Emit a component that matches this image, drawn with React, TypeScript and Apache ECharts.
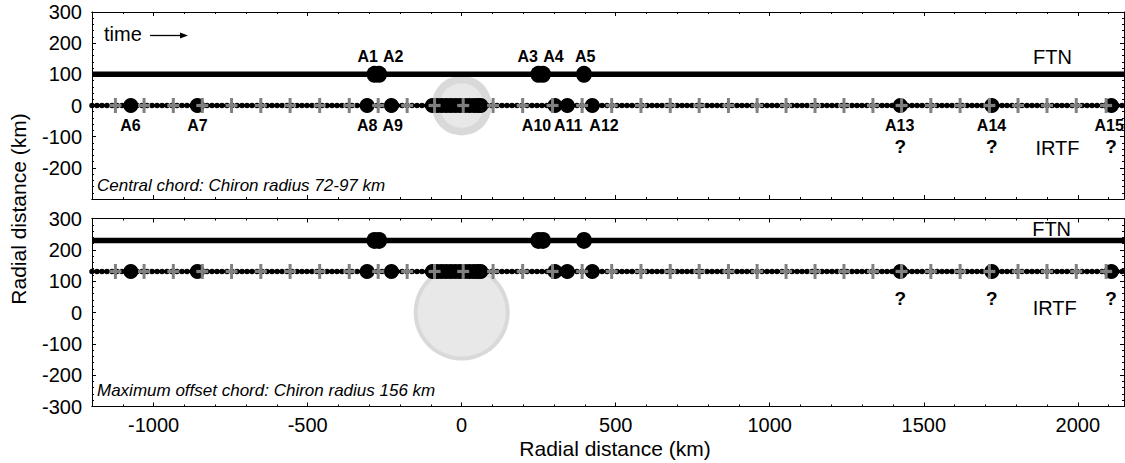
import React, { useEffect, useRef } from 'react';
import * as echarts from 'echarts';

// ---- data (km) ----
const X_MIN = -1200;
const X_MAX = 2150;
const Y_MIN = -300;
const Y_MAX = 300;

const ftnEventNames = ['A1', 'A2', 'A3', 'A4', 'A5'];
const ftnEventKm = [-283, -268, 249, 264, 397];
const ftnLabelKm = [-305, -222, 214, 298, 401];

const irtfEventNames = ['A6', 'A7', 'A8', 'A9', 'A10', 'A11', 'A12', 'A13', 'A14', 'A15'];
const irtfEventKm = [-1074, -858, -307, -228, 303, 343, 424, 1424, 1721, 2109];
const irtfLabelKm = [-1075, -858, -307, -224, 243, 346, 462, 1422, 1720, 2102];

// dense events while the star was behind Chiron
const irtfBodyKm = [-95, -80, -65, -50, -35, -20, -5, 10, 25, 40, 52, 62];

// gray + marks (regular time stamps)
const crossKm = [
  -1124, -1031, -936, -842, -747, -652, -557, -461, -365, -271, -177, -88, 5, 102, 198, 295, 391,
  487, 582, 677, 771, 866, 959, 1053, 1147, 1241, 1335, 1428, 1523, 1618, 1713, 1806, 1900, 1995, 2092,
];

const uncertainKm = [1424, 1721, 2108];

const chordCentral = { ftn: 100, irtf: 0 };
const chordOffset = { ftn: 230, irtf: 131 };
const chironCentral = { x: 0, y: 0, inner: 72, outer: 97 };
const chironOffset = { x: 0, y: 0, inner: 143, outer: 156 };

const FONT = '"Liberation Sans", Arial, Helvetica, sans-serif';

const plain = (v: number) => String(v);

function xAxesFor(gridIndex: number, showLabels: boolean) {
  const base: any = {
    type: 'value',
    gridIndex,
    min: X_MIN,
    max: X_MAX,
    splitLine: { show: false },
    axisLine: { show: true, onZero: false, lineStyle: { color: '#000', width: 1 } },
  };
  const major = {
    axisTick: { show: true, inside: true, length: 4, lineStyle: { color: '#000' } },
  };
  const minor = {
    interval: 100,
    axisTick: { show: true, inside: true, length: 2, lineStyle: { color: '#000' } },
    axisLabel: { show: false },
  };
  return [
    {
      ...base,
      ...major,
      position: 'bottom',
      splitNumber: 7,
      axisLabel: {
        show: showLabels,
        showMinLabel: false,
        showMaxLabel: false,
        color: '#000',
        fontSize: 20,
        fontFamily: FONT,
        margin: 8,
        formatter: plain,
      },
    },
    { ...base, ...minor, position: 'bottom' },
    { ...base, ...major, position: 'top', splitNumber: 7, axisLabel: { show: false } },
    { ...base, ...minor, position: 'top' },
  ];
}

function yAxesFor(gridIndex: number, hideMin: boolean) {
  const base: any = {
    type: 'value',
    gridIndex,
    min: Y_MIN,
    max: Y_MAX,
    interval: 100,
    splitLine: { show: false },
    axisLine: { show: true, onZero: false, lineStyle: { color: '#000', width: 1 } },
    axisTick: { show: true, inside: true, length: 4, lineStyle: { color: '#000' } },
    minorTick: { show: true, splitNumber: 5, length: 2, lineStyle: { color: '#000' } },
  };
  return [
    {
      ...base,
      position: 'left',
      axisLabel: {
        color: '#000',
        fontSize: 20,
        fontFamily: FONT,
        margin: 10,
        showMinLabel: !hideMin,
        formatter: plain,
      },
    },
    { ...base, position: 'right', axisLabel: { show: false } },
  ];
}

function textSeries(xi: number, yi: number, items: { name: string; value: number[] }[], style: any) {
  return {
    type: 'scatter',
    xAxisIndex: xi,
    yAxisIndex: yi,
    silent: true,
    symbolSize: 0.1,
    itemStyle: { color: 'transparent', opacity: 1 },
    data: items,
    label: {
      show: true,
      position: 'inside',
      formatter: '{b}',
      color: '#000',
      opacity: 1,
      fontFamily: FONT,
      ...style,
    },
    z: 10,
  };
}

function panelSeries(panel: number, chord: { ftn: number; irtf: number }, chiron: any) {
  const xi = panel * 4;
  const yi = panel * 2;
  const series: any[] = [];
  series.push({
    type: 'custom',
    xAxisIndex: xi,
    yAxisIndex: yi,
    silent: true,
    z: 1,
    data: [[chiron.x, chiron.y, chiron.outer, chiron.inner]],
    renderItem: (_p: any, api: any) => {
      const c = api.coord([api.value(0), api.value(1)]);
      const ro = api.size([api.value(2), 0])[0];
      const ri = api.size([api.value(3), 0])[0];
      return {
        type: 'group',
        children: [
          { type: 'circle', shape: { cx: c[0], cy: c[1], r: ro }, style: { fill: '#d9d9d9' } },
          { type: 'circle', shape: { cx: c[0], cy: c[1], r: ri }, style: { fill: '#e8e8e8' } },
        ],
      };
    },
  });
  // FTN chord
  series.push({
    type: 'line',
    xAxisIndex: xi,
    yAxisIndex: yi,
    silent: true,
    symbol: 'none',
    z: 2,
    data: [
      [X_MIN, chord.ftn],
      [X_MAX, chord.ftn],
    ],
    lineStyle: { color: '#000', width: 5.5, opacity: 1 },
  });
  // IRTF chord: thin line + dense dots
  series.push({
    type: 'line',
    xAxisIndex: xi,
    yAxisIndex: yi,
    silent: true,
    symbol: 'none',
    z: 2,
    data: [
      [X_MIN, chord.irtf],
      [X_MAX, chord.irtf],
    ],
    lineStyle: { color: '#000', width: 2, opacity: 1 },
  });
  series.push({
    type: 'line',
    xAxisIndex: xi,
    yAxisIndex: yi,
    silent: true,
    symbol: 'none',
    z: 3,
    data: [
      [X_MIN, chord.irtf],
      [X_MAX, chord.irtf],
    ],
    lineStyle: { color: '#000', width: 5.5, type: [0, 5], cap: 'round', opacity: 1 },
  });
  // FTN events
  series.push({
    type: 'scatter',
    xAxisIndex: xi,
    yAxisIndex: yi,
    silent: true,
    symbol: 'circle',
    symbolSize: [16, 17],
    z: 4,
    itemStyle: { color: '#000', opacity: 1 },
    data: ftnEventKm.map((x) => [x, chord.ftn]),
  });
  // IRTF events
  series.push({
    type: 'scatter',
    xAxisIndex: xi,
    yAxisIndex: yi,
    silent: true,
    symbol: 'circle',
    symbolSize: 15,
    z: 4,
    itemStyle: { color: '#000', opacity: 1 },
    data: irtfEventKm.concat(irtfBodyKm).map((x) => [x, chord.irtf]),
  });
  // crosses: drawn as custom marks (two gray bars) on top
  series.push({
    type: 'custom',
    xAxisIndex: xi,
    yAxisIndex: yi,
    silent: true,
    z: 5,
    data: crossKm.map((x) => [x, chord.irtf]),
    renderItem: (_p: any, api: any) => {
      const c = api.coord([api.value(0), api.value(1)]);
      return {
        type: 'group',
        children: [
          {
            type: 'rect',
            shape: { x: c[0] - 1.5, y: c[1] - 7.5, width: 3, height: 15 },
            style: { fill: '#808080' },
          },
          {
            type: 'rect',
            shape: { x: c[0] - 6, y: c[1] - 1.6, width: 12, height: 3.2 },
            style: { fill: '#808080' },
          },
        ],
      };
    },
  });
  return series;
}

const labelTop = [
  ...ftnEventNames.map((n, i) => ({ name: n, value: [ftnLabelKm[i], chordCentral.ftn + 57] })),
  ...irtfEventNames.map((n, i) => ({ name: n, value: [irtfLabelKm[i], chordCentral.irtf - 65] })),
];

export default function App() {
  const ref = useRef<HTMLDivElement>(null);
  useEffect(() => {
    if (!ref.current) return;
    const chart = echarts.init(ref.current, undefined, { renderer: 'svg' });
    const option: any = {
      animation: false,
      backgroundColor: '#fff',
      textStyle: { fontFamily: FONT },
      grid: [
        { left: 92, top: 12, width: 1032, height: 187 },
        { left: 92, top: 218.5, width: 1032, height: 188 },
      ],
      xAxis: [...xAxesFor(0, false), ...xAxesFor(1, true)],
      yAxis: [...yAxesFor(0, true), ...yAxesFor(1, false)],
      series: [
        ...panelSeries(0, chordCentral, chironCentral),
        ...panelSeries(1, chordOffset, chironOffset),
        textSeries(0, 0, labelTop, { fontSize: 16, fontWeight: 'bold' }),
        textSeries(
          0,
          0,
          uncertainKm.map((x) => ({ name: '?', value: [x, chordCentral.irtf - 132] })),
          { fontSize: 19, fontWeight: 'bold' }
        ),
        textSeries(
          4,
          2,
          uncertainKm.map((x) => ({ name: '?', value: [x, chordOffset.irtf - 86] })),
          { fontSize: 19, fontWeight: 'bold' }
        ),
        textSeries(
          0,
          0,
          [
            { name: 'FTN', value: [1918, chordCentral.ftn + 57] },
            { name: 'IRTF', value: [1934, chordCentral.irtf - 135] },
          ],
          { fontSize: 20 }
        ),
        textSeries(
          4,
          2,
          [
            { name: 'FTN', value: [1915, chordOffset.ftn + 36] },
            { name: 'IRTF', value: [1925, chordOffset.irtf - 118] },
          ],
          { fontSize: 20 }
        ),
      ],
      graphic: [
        {
          type: 'text',
          left: 104,
          top: 24,
          style: { text: 'time', fontSize: 20, fontFamily: FONT, fill: '#000' },
        },
        {
          type: 'line',
          shape: { x1: 150, y1: 35.5, x2: 181, y2: 35.5 },
          style: { stroke: '#000', lineWidth: 1.3 },
        },
        {
          type: 'polygon',
          shape: { points: [[180, 32.5], [188, 35.5], [180, 38.5]] },
          style: { fill: '#000' },
        },
        {
          type: 'text',
          x: 97,
          y: 185,
          style: {
            text: 'Central chord: Chiron radius 72-97 km',
            fontSize: 17,
            fontStyle: 'italic',
            fontFamily: FONT,
            fill: '#000',
            verticalAlign: 'middle',
          },
        },
        {
          type: 'text',
          x: 97,
          y: 390,
          style: {
            text: 'Maximum offset chord: Chiron radius 156 km',
            fontSize: 17,
            fontStyle: 'italic',
            fontFamily: FONT,
            fill: '#000',
            verticalAlign: 'middle',
          },
        },
        {
          type: 'text',
          x: 615,
          y: 448,
          style: {
            text: 'Radial distance (km)',
            fontSize: 21,
            fontFamily: FONT,
            fill: '#000',
            align: 'center',
            verticalAlign: 'middle',
          },
        },
        {
          type: 'text',
          x: 18,
          y: 209,
          rotation: Math.PI / 2,
          style: {
            text: 'Radial distance (km)',
            fontSize: 21,
            fontFamily: FONT,
            fill: '#000',
            align: 'center',
            verticalAlign: 'middle',
          },
        },
      ],
    };
    chart.setOption(option);
    return () => chart.dispose();
  }, []);
  return (
    <div
      ref={ref}
      style={{ position: 'absolute', left: 0, top: 0, width: 1125, height: 463, background: '#fff' }}
    />
  );
}
